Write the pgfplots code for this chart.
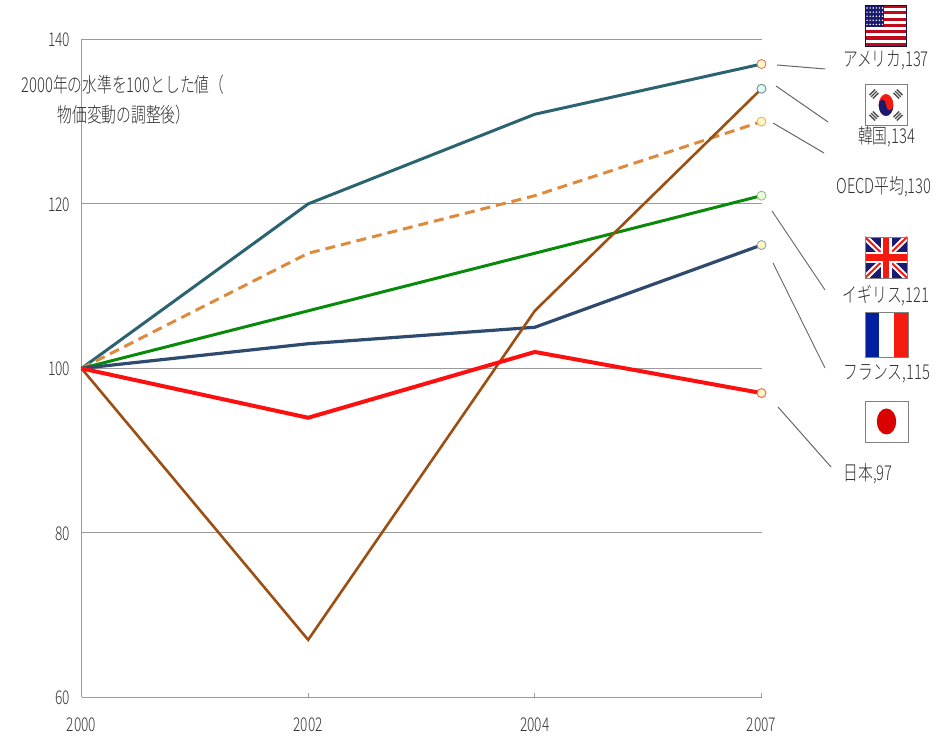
\documentclass[border=0pt]{standalone}
\usepackage{pgfplots}
\pgfplotsset{compat=1.18}
\usepackage{fontspec}
\setmainfont{Liberation Sans}
\newfontfamily\jp[FakeStretch=0.72,UprightFont={* Light},BoldFont={* Light}]{Noto Sans CJK JP}
\definecolor{gridgray}{HTML}{9A9A9A}
\definecolor{usa}{HTML}{2B6470}
\definecolor{kor}{HTML}{9C4F12}
\definecolor{oecd}{HTML}{DE8A3C}
\definecolor{gbr}{HTML}{0A8A0A}
\definecolor{fra}{HTML}{2E4A6E}
\definecolor{jpn}{HTML}{FF1010}
\definecolor{markfill}{HTML}{FFF6C0}
\definecolor{txt}{HTML}{333333}
\definecolor{lead}{HTML}{666666}
\definecolor{flagblue}{HTML}{00209F}
\definecolor{flagred}{HTML}{F51A10}
\definecolor{usred}{HTML}{BF0A1E}
\definecolor{usnavy}{HTML}{1A1A6E}
\pgfplotstableread{
x usa kor oecd gbr fra jpn
0 100 100 100 100 100 100
1 120 67 114 107 103 94
2 130.9 107 121 114 105 102
3 137 134 130 121 115 97
}\levels
\begin{document}
\begin{tikzpicture}[x=1pt,y=1pt]
\useasboundingbox (0,0) rectangle (947,741);
\begin{axis}[
  at={(81.5pt,43.6pt)}, anchor=south west,
  scale only axis, width=680pt, height=658pt,
  xmin=0, xmax=3, ymin=60, ymax=140,
  xtick={0,1,2,3}, xticklabels={2000,2002,2004,2007},
  ytick={60,80,100,120,140},
  axis x line*=bottom, axis y line*=left,
  axis line style={gridgray,line width=1pt,-},
  ymajorgrids, grid style={gridgray,line width=1pt},
  tick style={gridgray,line width=0.8pt},
  major tick length=4.5pt,
  clip=false,
  /pgf/number format/assume math mode=true,
  /pgf/number format/1000 sep={},
  tick label style={font=\jp\fontsize{19}{19}\selectfont,text=txt},
  xticklabel style={yshift=-17pt},
  yticklabel style={xshift=-8pt,yshift=-0.5pt},
  every axis plot/.append style={mark=none},
]
\addplot[usa,line width=3pt] table[x=x,y=usa]{\levels};
\addplot[oecd,line width=3pt,dash pattern=on 10pt off 6pt] table[x=x,y=oecd]{\levels};
\addplot[gbr,line width=3pt] table[x=x,y=gbr]{\levels};
\addplot[fra,line width=3.2pt] table[x=x,y=fra]{\levels};
\addplot[kor,line width=2.6pt] table[x=x,y=kor]{\levels};
\addplot[jpn,line width=4pt] table[x=x,y=jpn]{\levels};
% end-of-line markers
\addplot[only marks,mark=*,mark size=4.5pt,mark options={fill=markfill,draw=usa!30!red!60,line width=0.9pt}] coordinates {(3,137)};
\addplot[only marks,mark=*,mark size=4.5pt,mark options={fill=markfill!60!cyan!30,draw=usa!70,line width=0.9pt}] coordinates {(3,134)};
\addplot[only marks,mark=*,mark size=4.5pt,mark options={fill=markfill,draw=oecd!70,line width=0.9pt}] coordinates {(3,130)};
\addplot[only marks,mark=*,mark size=4.5pt,mark options={fill=markfill!80!green!30,draw=gbr!50,line width=0.9pt}] coordinates {(3,121)};
\addplot[only marks,mark=*,mark size=4.5pt,mark options={fill=markfill,draw=fra!50,line width=0.9pt}] coordinates {(3,115)};
\addplot[only marks,mark=*,mark size=4.5pt,mark options={fill=markfill,draw=jpn!70,line width=0.9pt}] coordinates {(3,97)};
\end{axis}
% annotation positions are measured down from the top edge
\def\T#1{\fontsize{#1}{#1}\selectfont}
\begin{scope}[shift={(0,741)},y=-1pt,every node/.style={text=txt,inner sep=0pt,font=\jp\T{20.5}}]
\node at (123,85) {2000年の水準を100とした値（};
\node at (124,115) {物価変動の調整後）};
\node at (886,60) {アメリカ,137};
\node at (886.5,137) {韓国,134};
\node at (884,187) {OECD平均,130};
\node at (886,296) {イギリス,121};
\node at (887,374) {フランス,115};
\node at (868,474) {日本,97};
% leader lines
\draw[lead,line width=1pt] (777,65)--(825,69);
\draw[lead,line width=1pt] (776,86)--(828,122);
\draw[lead,line width=1pt] (773,123)--(824,153);
\draw[lead,line width=0.9pt] (772,211)--(825,290);
\draw[lead,line width=0.9pt] (773,263)--(825,368);
\draw[lead,line width=1pt] (778,407)--(831,467);
% United States
\fill[white] (865,5) rectangle (906,46);
\foreach \i in {0,2,...,12}{\fill[usred] (865,{5+\i*3.15}) rectangle (906,{5+(\i+1)*3.15});}
\fill[usnavy] (865,5) rectangle (884,27);
\foreach \r in {0,...,4}{\foreach \c in {0,...,5}{\fill[white] ({867+\c*3.1},{8+\r*4.1}) circle (0.8);}}
\draw[usnavy!60!black,line width=0.5pt] (865,5) rectangle (906,46);
% South Korea
\fill[white] (865,84) rectangle (907,125);
\draw[gray,line width=0.8pt] (865,84) rectangle (907,125);
\begin{scope}[shift={(886,105)},yscale=1.5]
\fill[flagred] (0,0) circle (7.3);
\fill[usnavy] (-7.3,0) arc[start angle=180,end angle=0,radius=7.3] arc[start angle=0,end angle=180,radius=3.65] arc[start angle=0,end angle=-180,radius=3.65] -- cycle;
\end{scope}
\foreach \cx/\cy/\a in {874/94/45,898/94/-45,874/116/-45,898/116/45}{
  \foreach \o in {-2.4,0,2.4}{
    \draw[black!70,line width=1.3pt,rotate around={\a:(\cx,\cy)}] ({\cx-4},{\cy+\o})--({\cx+4},{\cy+\o});}}
% United Kingdom
\begin{scope}
\clip (865,237) rectangle (907,278);
\fill[usnavy] (865,237) rectangle (907,278);
\draw[white,line width=6pt] (865,237)--(907,278) (907,237)--(865,278);
\draw[flagred,line width=2pt] (865,237)--(907,278) (907,237)--(865,278);
\draw[white,line width=11pt] (886,237)--(886,278) (865,257.5)--(907,257.5);
\draw[flagred,line width=6.5pt] (886,237)--(886,278) (865,257.5)--(907,257.5);
\end{scope}
\draw[gray,line width=0.5pt] (865,237) rectangle (907,278);
% France
\fill[flagblue] (865,312) rectangle (879,357);
\fill[white] (879,312) rectangle (894,357);
\fill[flagred] (894,312) rectangle (908,357);
\draw[gray,line width=0.6pt] (865,312) rectangle (908,357);
% Japan
\fill[white] (865,401) rectangle (908,442);
\draw[gray,line width=0.8pt] (865,401) rectangle (908,442);
\fill[red!85!black] (886.5,421.5) ellipse (9.7 and 13);
\end{scope}
\end{tikzpicture}
\end{document}
